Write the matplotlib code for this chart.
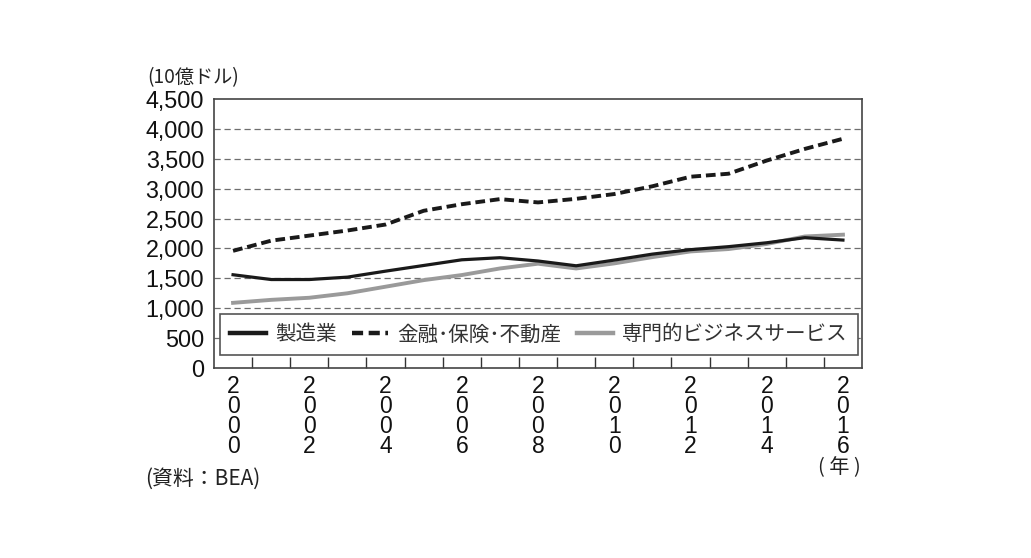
import matplotlib
matplotlib.use("Agg")
import matplotlib.pyplot as plt
from matplotlib.ticker import FixedLocator

years = list(range(2000, 2017))
manufacturing = [1560, 1480, 1480, 1520, 1620, 1715, 1810, 1845, 1790, 1710,
                 1805, 1905, 1980, 2030, 2095, 2180, 2140]
finance = [1960, 2130, 2215, 2300, 2400, 2630, 2740, 2825, 2770, 2830,
           2910, 3040, 3200, 3250, 3470, 3665, 3835]
professional = [1090, 1140, 1175, 1250, 1360, 1470, 1555, 1665, 1745, 1665,
                1750, 1855, 1950, 1990, 2075, 2200, 2230]
series_names = ["製造業", "金融･保険･不動産", "専門的ビジネスサービス"]
yticks = list(range(0, 4501, 500))
grid_levels = [500, 1000, 1500, 2000, 2500, 3000, 3500, 4000]

CJK = ["Noto Sans CJK JP", "DejaVu Sans"]
NUM = ["Liberation Sans", "DejaVu Sans"]

fig = plt.figure(figsize=(10.31, 5.58), dpi=100)
ax = fig.add_axes([214 / 1031, 1 - 368 / 558, 648 / 1031, 269 / 558])

x = list(range(len(years)))

for g in grid_levels:
    ax.axhline(g, color="#6e6e6e", lw=0.9, linestyle=(0, (5, 3)), zorder=1)

ax.plot(x, manufacturing, color="#1a1a1a", lw=2.3, label=series_names[0],
        zorder=3, solid_joinstyle="round")
ax.plot(x, finance, color="#1a1a1a", lw=2.8, label=series_names[1],
        dashes=(2.5, 1.25), zorder=3)
ax.plot(x, professional, color="#9a9a9a", lw=2.8, label=series_names[2],
        zorder=2, solid_joinstyle="round")

ax.set_xlim(-0.5, len(years) - 0.5)
ax.set_ylim(0, 4500)

# y axis
ax.set_yticks(yticks)
ax.set_yticklabels([f"{v:,}" for v in yticks], fontfamily=NUM, fontsize=16.8,
                   color="#111111")
ax.tick_params(axis="y", length=0, pad=7)

# x axis: labels every two years, tick marks at category boundaries
major = [i for i, yr in enumerate(years) if yr % 2 == 0]
ax.set_xticks(major)
labels = ["\n".join(str(years[i])) for i in major]
ax.set_xticklabels(labels, fontfamily=NUM, fontsize=16.5, color="#111111",
                   linespacing=0.84, va="top")
ax.tick_params(axis="x", which="major", length=0, pad=5)
ax.xaxis.set_minor_locator(FixedLocator([k - 0.5 for k in range(1, len(years))]))
ax.tick_params(axis="x", which="minor", direction="in", length=8,
               width=1.0, color="#333333")

for s in ax.spines.values():
    s.set_color("#444444")
    s.set_linewidth(1.2)

leg = ax.legend(loc="center", bbox_to_anchor=(0.5015, 0.1247), ncol=3,
                frameon=True, fancybox=False, edgecolor="#555555",
                prop={"family": CJK, "size": 14.8}, handlelength=1.75,
                handletextpad=0.45, columnspacing=0.75, borderpad=0.48,
                borderaxespad=0)
leg.get_frame().set_linewidth(1.2)
leg.get_frame().set_facecolor("white")
leg.get_frame().set_alpha(1)
leg.set_zorder(5)
for t in leg.get_texts():
    t.set_color("#333333")
for h in leg.get_lines():
    h.set_linewidth(3.2)

fig.text(147 / 1031, 1 - 67 / 558, "(10億ドル)", family=CJK, fontsize=13.8,
         color="#222222", ha="left", va="top")
fig.text(145 / 1031, 1 - 468 / 558, "(資料：BEA)", family=CJK, fontsize=15,
         color="#222222", ha="left", va="top")
fig.text(861 / 1031, 1 - 457 / 558, "( 年 )", family=CJK, fontsize=14.5,
         color="#222222", ha="right", va="top")

fig.savefig("out.png", dpi=100, facecolor="white")
